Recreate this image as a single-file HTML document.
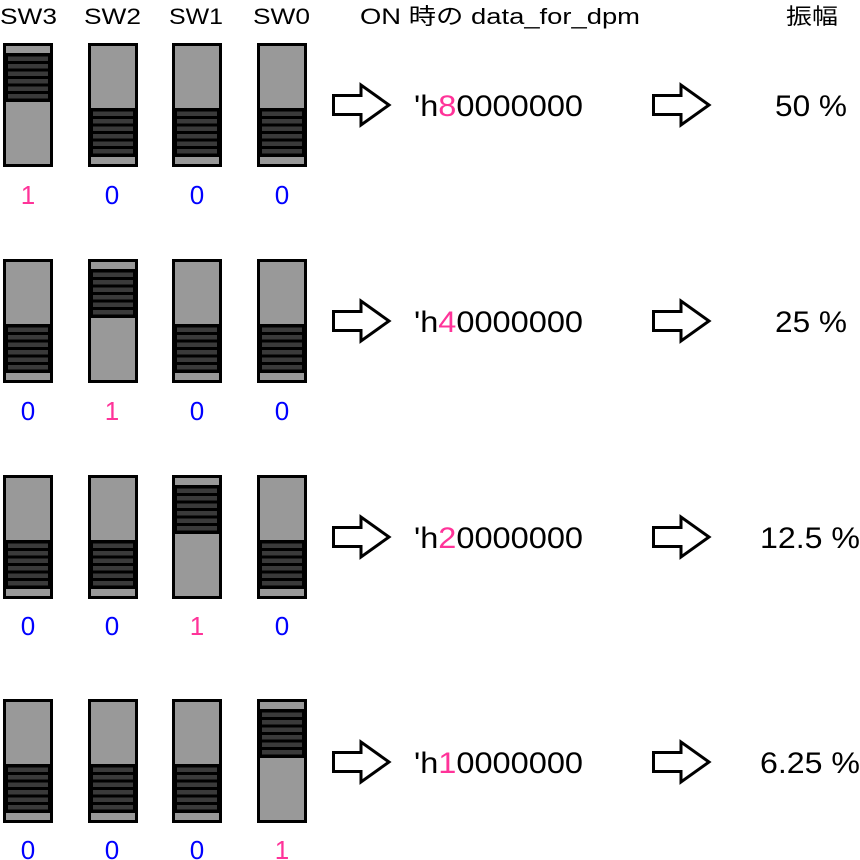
<!DOCTYPE html>
<html><head><meta charset="utf-8"><style>
html,body{margin:0;padding:0;background:#fff;width:860px;height:860px;overflow:hidden}
text{font-family:"Liberation Sans","Noto Sans CJK JP",sans-serif}
</style></head><body>
<svg width="860" height="860" viewBox="0 0 860 860" xmlns="http://www.w3.org/2000/svg">
<defs>
<g id="up">
<rect x="1.5" y="1.5" width="47" height="121" fill="#999" stroke="#000" stroke-width="3"/>
<rect x="3" y="10" width="44" height="49" fill="#000"/>
<g fill="#3a3a3a">
<rect x="5" y="13.5" width="40" height="4.5"/><rect x="5" y="21" width="40" height="4.5"/>
<rect x="5" y="28.5" width="40" height="4.5"/><rect x="5" y="36" width="40" height="4.5"/>
<rect x="5" y="43.5" width="40" height="4.5"/><rect x="5" y="51" width="40" height="4.5"/>
</g></g>
<g id="dn">
<rect x="1.5" y="1.5" width="47" height="121" fill="#999" stroke="#000" stroke-width="3"/>
<rect x="3" y="65" width="44" height="49" fill="#000"/>
<g fill="#3a3a3a">
<rect x="5" y="68.5" width="40" height="4.5"/><rect x="5" y="76" width="40" height="4.5"/>
<rect x="5" y="83.5" width="40" height="4.5"/><rect x="5" y="91" width="40" height="4.5"/>
<rect x="5" y="98.5" width="40" height="4.5"/><rect x="5" y="106" width="40" height="4.5"/>
</g></g>
<path id="ar" d="M1.5,-9.5 H29 V-20 L57,0 L29,20 V9.5 H1.5 Z" fill="#fff" stroke="#000" stroke-width="3" stroke-linejoin="miter"/>
</defs>
<g font-size="22">
<text x="0" y="24" textLength="57" lengthAdjust="spacingAndGlyphs">SW3</text>
<text x="84" y="24" textLength="57" lengthAdjust="spacingAndGlyphs">SW2</text>
<text x="169" y="24" textLength="54" lengthAdjust="spacingAndGlyphs">SW1</text>
<text x="253" y="24" textLength="57" lengthAdjust="spacingAndGlyphs">SW0</text>
<text x="360" y="24" textLength="280" lengthAdjust="spacingAndGlyphs">ON 時の data_for_dpm</text>
<text x="786" y="24" textLength="52" lengthAdjust="spacingAndGlyphs">振幅</text>
</g>
<use href="#up" x="3" y="43"/><use href="#dn" x="88" y="43"/><use href="#dn" x="172" y="43"/><use href="#dn" x="257" y="43"/>
<use href="#dn" x="3" y="259"/><use href="#up" x="88" y="259"/><use href="#dn" x="172" y="259"/><use href="#dn" x="257" y="259"/>
<use href="#dn" x="3" y="475"/><use href="#dn" x="88" y="475"/><use href="#up" x="172" y="475"/><use href="#dn" x="257" y="475"/>
<use href="#dn" x="3" y="699"/><use href="#dn" x="88" y="699"/><use href="#dn" x="172" y="699"/><use href="#up" x="257" y="699"/>
<g font-size="26" text-anchor="middle">
<text x="28" y="204" fill="#ff3399">1</text><text x="112" y="204" fill="#0000ff">0</text><text x="197" y="204" fill="#0000ff">0</text><text x="282" y="204" fill="#0000ff">0</text>
<text x="28" y="420" fill="#0000ff">0</text><text x="112" y="420" fill="#ff3399">1</text><text x="197" y="420" fill="#0000ff">0</text><text x="282" y="420" fill="#0000ff">0</text>
<text x="28" y="635" fill="#0000ff">0</text><text x="112" y="635" fill="#0000ff">0</text><text x="197" y="635" fill="#ff3399">1</text><text x="282" y="635" fill="#0000ff">0</text>
<text x="28" y="859" fill="#0000ff">0</text><text x="112" y="859" fill="#0000ff">0</text><text x="197" y="859" fill="#0000ff">0</text><text x="282" y="859" fill="#ff3399">1</text>
</g>
<use href="#ar" x="332" y="105"/><use href="#ar" x="652" y="105"/>
<use href="#ar" x="332" y="321"/><use href="#ar" x="652" y="321"/>
<use href="#ar" x="332" y="537"/><use href="#ar" x="652" y="537"/>
<use href="#ar" x="332" y="762"/><use href="#ar" x="652" y="762"/>
<g font-size="30">
<text x="414" y="116" textLength="169" lengthAdjust="spacingAndGlyphs">'h<tspan fill="#ff3399">8</tspan>0000000</text>
<text x="414" y="332" textLength="169" lengthAdjust="spacingAndGlyphs">'h<tspan fill="#ff3399">4</tspan>0000000</text>
<text x="414" y="548" textLength="169" lengthAdjust="spacingAndGlyphs">'h<tspan fill="#ff3399">2</tspan>0000000</text>
<text x="414" y="773" textLength="169" lengthAdjust="spacingAndGlyphs">'h<tspan fill="#ff3399">1</tspan>0000000</text>
</g>
<g font-size="30">
<text x="775" y="116" textLength="72" lengthAdjust="spacingAndGlyphs">50 %</text>
<text x="775" y="332" textLength="72" lengthAdjust="spacingAndGlyphs">25 %</text>
<text x="760" y="548" textLength="100" lengthAdjust="spacingAndGlyphs">12.5 %</text>
<text x="760" y="773" textLength="100" lengthAdjust="spacingAndGlyphs">6.25 %</text>
</g>
</svg>
</body></html>
